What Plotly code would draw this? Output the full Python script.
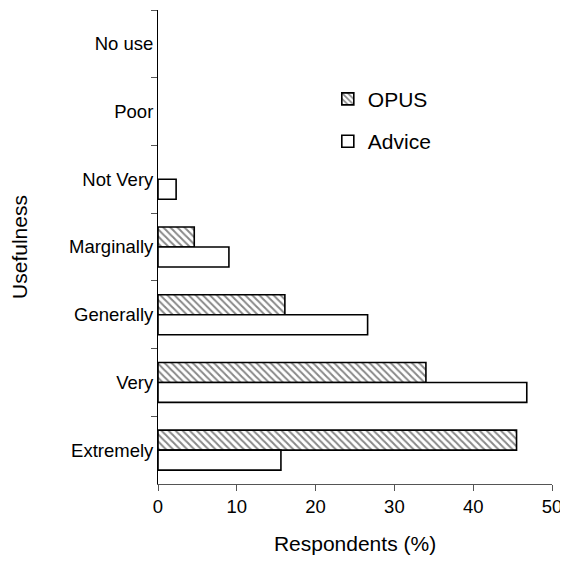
import plotly.graph_objects as go

# usefulness categories, top to bottom as drawn
categories = ["No use", "Poor", "Not Very", "Marginally", "Generally", "Very", "Extremely"]
opus = [0, 0, 0, 4.6, 16.1, 34.0, 45.5]
advice = [0, 0, 2.3, 9.0, 26.6, 46.8, 15.6]

font = dict(family="Liberation Sans, Arial, sans-serif", size=18.5, color="black")
big_font = dict(family=font["family"], size=21, color="black")


def nonzero(vals):
    # empty categories get no bar at all (plotly would draw a stub at zero)
    return [v if v > 0 else None for v in vals]


fig = go.Figure()
fig.add_trace(go.Bar(
    y=categories, x=nonzero(opus), orientation="h", name="OPUS",
    legendgroup="a",
    marker=dict(color="white", line=dict(color="black", width=1.6),
                pattern=dict(shape="\\", fgcolor="#111", bgcolor="white",
                             size=5, solidity=0.4)),
))
fig.add_trace(go.Bar(
    y=categories, x=nonzero(advice), orientation="h", name="Advice",
    legendgroup="b",
    marker=dict(color="white", line=dict(color="black", width=1.6)),
))

# page has an 8px body margin, so the figure is 8px smaller each way
fig.update_layout(
    width=560, height=564,
    margin=dict(l=150, r=16, t=2, b=88),
    paper_bgcolor="white", plot_bgcolor="white",
    font=font,
    barmode="group", bargap=0.41, bargroupgap=0,
    showlegend=True,
    legend=dict(x=0.431, y=0.855, xanchor="left", yanchor="top",
                traceorder="grouped", tracegroupgap=12,
                bgcolor="rgba(0,0,0,0)", itemwidth=30, font=big_font),
)
fig.update_xaxes(
    range=[0, 50], dtick=10, showgrid=False, zeroline=False, automargin=False,
    showline=True, linecolor="#555", linewidth=1,
    ticks="outside", ticklen=6, tickcolor="#555",
    title=dict(text="Respondents (%)", standoff=20, font=big_font),
)
fig.update_yaxes(
    autorange="reversed", showgrid=False, zeroline=False, automargin=False,
    showline=True, linecolor="black", linewidth=1,
    ticks="outside", ticklen=6, tickcolor="#555", tickson="boundaries",
    title=dict(text="Usefulness", standoff=52, font=big_font),
)

fig.write_html("out.html")
